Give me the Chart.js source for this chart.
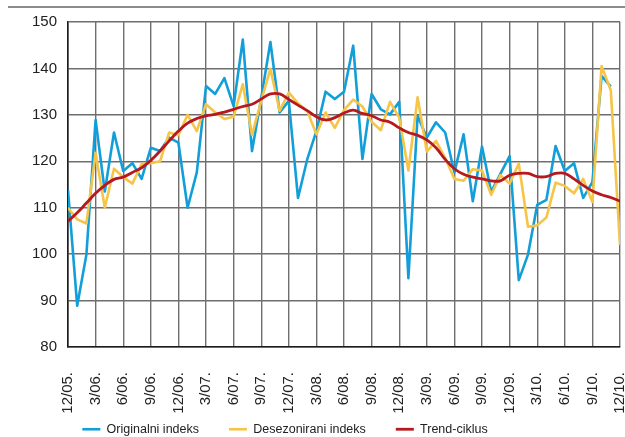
<!DOCTYPE html>
<html>
<head>
<meta charset="utf-8">
<script src="https://cdn.jsdelivr.net/npm/chart.js@4.4.1/dist/chart.umd.min.js"></script>
<style>
  html, body { margin: 0; padding: 0; background: #fff; }
  #wrap { position: relative; width: 625px; height: 437px; overflow: hidden; }
  #topRule { position: absolute; left: 8px; right: 0; top: 6px; border-top: 2px solid #8c8c8c; }
  #chart { position: absolute; left: 0; top: 0; }
</style>
</head>
<body>
<div id="wrap">
  <div id="topRule"></div>
  <canvas id="chart" width="625" height="437"></canvas>
</div>
<script>
// tick labels every 3 months, monthly data 12/05 .. 12/10
const tickLabels = ['12/05.', '3/06.', '6/06.', '9/06.', '12/06.', '3/07.', '6/07.', '9/07.', '12/07.', '3/08.', '6/08.',
  '9/08.', '12/08.', '3/09.', '6/09.', '9/09.', '12/09.', '3/10.', '6/10.', '9/10.', '12/10.'];

const seriesNames = ['Originalni indeks', 'Desezonirani indeks', 'Trend-ciklus'];

// original index (ends one month earlier)
const originalni = [113.8, 88.9, 99.9, 128.9, 113.5, 126.2, 117.9, 119.6, 116.2, 122.9,
  122.2, 125.1, 124.0, 110.0, 117.6, 136.2, 134.5, 137.9, 131.9, 146.2,
  122.2, 133.6, 145.7, 130.5, 133.0, 112.1, 120.4, 126.5, 135.0, 133.4,
  135.0, 144.9, 120.5, 134.5, 131.2, 130.1, 132.8, 94.8, 129.8, 125.1,
  128.4, 126.2, 117.6, 125.8, 111.4, 123.2, 113.4, 117.3, 121.1, 94.4,
  99.9, 110.6, 111.7, 123.3, 117.9, 119.6, 112.1, 115.5, 138.4, 136.1];

const desezonirani = [110.0, 107.5, 106.6, 121.8, 110.0, 118.4, 116.6, 115.2, 119.4, 119.6,
  120.0, 126.2, 125.6, 130.0, 126.5, 132.3, 130.5, 129.1, 129.6, 136.6,
  125.7, 133.0, 139.9, 130.9, 134.8, 132.5, 130.9, 125.8, 130.5, 127.2,
  131.0, 133.3, 131.8, 128.5, 126.7, 132.8, 129.4, 118.0, 133.8, 122.1,
  124.4, 120.7, 116.2, 115.8, 118.3, 118.0, 112.8, 117.0, 115.2, 119.5,
  105.9, 106.2, 107.9, 115.4, 114.7, 113.1, 116.2, 111.2, 140.5, 135.3,
  102.0];

const trend = [107.1, 108.9, 111.0, 113.1, 114.8, 116.1, 116.6, 117.6, 118.6, 120.2,
  122.2, 124.4, 126.5, 128.2, 129.2, 129.8, 130.1, 130.6, 131.2, 131.8,
  132.3, 133.4, 134.5, 134.5, 133.3, 132.1, 130.9, 129.6, 128.9, 129.4,
  130.4, 131.0, 130.3, 129.8, 128.9, 128.4, 127.2, 126.2, 125.6, 124.6,
  122.9, 120.4, 118.4, 117.2, 116.6, 116.2, 115.8, 115.8, 117.0, 117.4,
  117.4, 116.7, 116.7, 117.4, 117.4, 116.2, 114.8, 113.6, 112.8, 112.2,
  111.4];

const FONT = "'Liberation Sans', Arial, sans-serif";
const GRID = '#6e6e6e';

const pts = arr => arr.map((v, i) => ({ x: i, y: v }));

// move the legend down / left to where the original sits
const legendNudge = {
  id: 'legendNudge',
  afterLayout(chart) {
    const lg = chart.legend;
    if (!lg) return;
    lg.top = 393;
    lg.bottom = chart.height;
    lg.left -= 25;
    lg.right -= 25;
  }
};

window.onload = () => {
  new Chart(document.getElementById('chart').getContext('2d'), {
    type: 'line',
    data: {
      datasets: [
        { label: seriesNames[0], data: pts(originalni), borderColor: '#129fd9', borderWidth: 2.6, order: 3 },
        { label: seriesNames[1], data: pts(desezonirani), borderColor: '#f6c548', borderWidth: 2.6, order: 2 },
        { label: seriesNames[2], data: pts(trend), borderColor: '#b5191f', borderWidth: 2.8, tension: 0.4, order: 1 }
      ]
    },
    options: {
      responsive: false,
      animation: false,
      layout: { padding: { top: 22, right: 5, left: 0, bottom: 0 } },
      elements: { point: { radius: 0 }, line: { tension: 0, borderJoinStyle: 'round' } },
      scales: {
        x: {
          type: 'linear', min: 0, max: 60,
          afterFit: s => { s.height = 70; s.paddingLeft = 0; s.paddingRight = 0; },
          grid: { color: GRID, lineWidth: 1.4, drawTicks: false },
          border: { color: '#1e1e1e', width: 1.6 },
          ticks: {
            stepSize: 3, autoSkip: false, maxRotation: 90, minRotation: 90, padding: 25,
            color: '#222', font: { family: FONT, size: 15 },
            callback: v => tickLabels[Math.round(v / 3)]
          }
        },
        y: {
          min: 80, max: 150,
          afterFit: s => { s.width = 68; },
          grid: { color: GRID, lineWidth: 1.4, drawTicks: false },
          border: { color: '#1e1e1e', width: 1.6 },
          ticks: { stepSize: 10, padding: 11, color: '#222', font: { family: FONT, size: 15 } }
        }
      },
      plugins: {
        tooltip: { enabled: false },
        legend: {
          position: 'bottom',
          maxHeight: 20,
          labels: {
            usePointStyle: true, pointStyle: 'line', pointStyleWidth: 18, padding: 30,
            color: '#222', font: { family: FONT, size: 12.5 },
            sort: (a, b) => a.datasetIndex - b.datasetIndex
          }
        }
      }
    },
    plugins: [legendNudge]
  });
};
</script>
</body>
</html>
